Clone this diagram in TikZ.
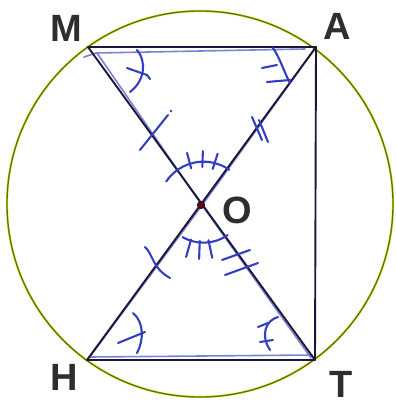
\documentclass[tikz,border=0pt]{standalone}
\usepackage{fontspec}
\setmainfont{Liberation Sans}
\usetikzlibrary{calc}
\definecolor{ink}{RGB}{26,24,58}
\definecolor{penblue}{RGB}{52,62,192}
\definecolor{rim}{RGB}{78,120,30}
\begin{document}
\begin{tikzpicture}[x=1pt,y=-1pt,line cap=round,line join=round,
                    every node/.style={font=\fontsize{38pt}{40pt}\selectfont\bfseries,text=black!82,inner sep=0pt},
                    seg/.style={ink,line width=1.9pt},
                    hand/.style={penblue,line width=2.1pt},
                    trace/.style={penblue!65!white,line width=1.6pt}]
% ---- 坐标（px，原点=位图左上角，y 向下） ----
\coordinate (Z) at (200,204);   % 圆心
\coordinate (O) at (201,205);
\coordinate (M) at (88,47);  \coordinate (A) at (316,47);
\coordinate (H) at (87,360); \coordinate (T) at (315,360);
% ---- 外接圆 ----
\draw[yellow!80!orange,line width=2.2pt] (Z) circle[radius=193];
\draw[rim,line width=1.3pt] (Z) circle[radius=193];
% ---- 蓝笔描边（手画，稍有偏移） ----
\draw[trace] (84,57) -- (96,53) -- (305,49);
\draw[trace] ($(M)+(9,6)$) -- ($(O)+(-2,-4)$);
\draw[trace] ($(A)+(-2,3)$) -- ($(O)+(2,-1)$) -- ($(H)+(2,-2)$);
\draw[trace] ($(O)+(3,3)$) -- ($(T)+(-4,-2)$);
\draw[trace] ($(H)+(3,-3)$) -- ($(T)+(-3,-5)$);
% ---- 实线：MA、AT、HT 与两条对角线 ----
\draw[seg] (M) -- (A) -- (T) -- (H);
\draw[seg] (M) -- (T);
\draw[seg] (A) -- (H);
% ---- 顶点角 ----
\draw[hand] (137,50) .. controls (146,60) and (146,80) .. (130,92);      % M
\draw[hand] (127,68) -- (147,75) -- (150,79);
\draw[hand] (273,48) .. controls (280,58) and (284,72) .. (290,83);      % A
\draw[hand] (262,68) -- (277,65);
\draw[hand] (267,82) -- (290,80);
\draw[hand] (133,313) .. controls (144,322) and (144,340) .. (137,353);  % H
\draw[hand] (118,343) -- (145,332);
\draw[hand] (278,317) .. controls (266,320) and (260,335) .. (270,350);  % T
\draw[hand] (258,327) -- (268,323);
\draw[hand] (260,342) -- (273,340);
% ---- 中心角 ----
\draw[hand] (O) ++(-146:42) arc[start angle=-146,end angle=-55,radius=45];
\foreach \a in {-105,-88,-72}
  \draw[hand] ($(O)+(\a:38)$) -- ($(O)+(\a:54)$);
\draw[hand] (O) ++(120:37) arc[start angle=120,end angle=55,radius=42];
\foreach \a in {106,92,78}
  \draw[hand] ($(O)+(\a:36)$) -- ($(O)+(\a:54)$);
% ---- 线段等长记号 ----
\draw[hand] (140,150) -- (168,115);                                     % MO
\fill[penblue] (171,111) circle[radius=1.3];
\draw[hand] (252,117) -- (262,140);                                     % OA
\draw[hand] (259,120) -- (268,142);
\draw[hand] (145,247) .. controls (153,254) and (152,268) .. (170,278); % HO
\draw[hand] (222,260) -- (250,250);                                     % OT
\draw[hand] (225,275) -- (258,263);
% ---- 点 O ----
\filldraw[draw=ink,fill=red!45!black,line width=1pt] (O) circle[radius=3.6];
% ---- 标签 ----
\node (lM) at (66.5,28.5) {M};
\node (lA) at (337,26) {A};
\node (lH) at (64,377) {H};
\node (lT) at (341,384) {T};
\node (lO) at (237,210) {O};
% ---- 画布 ----
\pgfresetboundingbox
\path[use as bounding box] (0,0) rectangle (396,407);
\end{tikzpicture}
\end{document}
